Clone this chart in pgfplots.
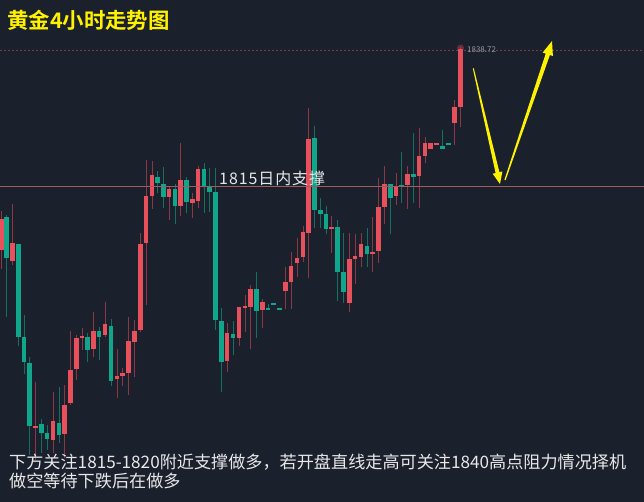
\documentclass[border=0pt]{standalone}
\usepackage{pgfplots}
\pgfplotsset{compat=1.18}
\usepackage{pgfplotstable}
\usepackage{fontspec}
\newfontfamily\cjk{Noto Sans CJK SC}
\newfontfamily\cjkwide[LetterSpace=6]{Noto Sans CJK SC}
\newfontfamily\cjkb{Noto Sans CJK SC Bold}

\definecolor{bg}{RGB}{27,32,45}
\definecolor{upbody}{RGB}{232,80,92}
\definecolor{upwick}{RGB}{140,56,68}
\definecolor{dnbody}{RGB}{16,166,140}
\definecolor{dnwick}{RGB}{20,112,96}
\definecolor{supline}{RGB}{158,92,98}
\definecolor{pxline}{RGB}{125,58,70}
\definecolor{txt}{RGB}{232,232,232}
\definecolor{pxtext}{RGB}{150,155,165}

% candles: x = pixel column, body top/bottom, high, low (pixel rows)
% red = rising candle, green = falling candle
\pgfplotstableread{
x t b h l
1.5 219 250 211 269
12.5 243 261 204 265
35.7 426 428 382 460
53 421 440 392 453
64.7 405 434 385 458
70.3 370 403 331 405
76.3 338 369 335 380
82 336 338 328 350
93.5 331 349 312 357
105 324 335 302 337
117 376 379 349 398
122.5 373 376 368 386
128.7 341 373 317 395
134.3 331 342 320 377
140.3 244 330 233 332
146 196 243 160 305
152 175 196 161 209
169 189 197 187 220
180.3 180 206 143 216
192.3 199 203 193 218
198 169 201 166 208
227 333 361 323 372
239 307 338 307 346
245 306 308 295 332
250.3 289 307 285 349
262.3 302 310 299 328
285.3 282 291 267 309
291 266 282 252 309
297 258 263 238 277
303 232 257 226 262
308.7 139 233 108 278
331.5 227 229 216 253
349.3 259 303 233 312
355 256 259 234 284
361 244 257 233 267
372.5 252 254 217 272
378.5 207 251 178 263
384.5 184 207 166 224
396 186 196 173 205
407.5 174 185 166 209
419 156 176 128 208
425 143 156 137 163
430.5 143 149 143 149
436.5 143 145 143 145
454.5 107 123 100 145
460.5 49 107 47 127
}\up

\pgfplotstableread{
x t b h l
6.5 217 258 215 317
18.3 244 337 244 346
24 337 362 315 374
29.7 363 426 357 455
41.3 424 433 419 453
47 433 439 425 450
59 423 435 387 443
87.7 337 350 333 362
99 331 337 327 360
111 326 381 319 386
157.7 177 183 171 193
163.3 184 197 167 208
175 189 206 184 224
186.3 180 202 177 213
204 169 187 163 213
209.7 187 192 168 212
215.3 192 320 168 330
221.3 321 362 308 392
233 334 338 321 355
256.3 289 311 272 338
268 308 310 304 310
273.5 303 305 303 305
279.5 308 310 308 310
314.5 138 210 126 228
320.3 210 214 198 228
326 214 229 206 234
337.3 227 272 220 301
343.5 272 292 233 303
367 246 254 228 267
390.5 184 198 184 234
401.5 185 187 152 203
413.5 174 177 133 203
442.5 146 149 130 149
448.5 143 145 143 145
}\dn

\begin{document}
\begin{tikzpicture}
\fill[bg] (0,0) rectangle (644bp,502bp);
\begin{axis}[
    at={(0,0)}, anchor=south west,
    width=644bp, height=502bp, scale only axis,
    xmin=0, xmax=644, ymin=0, ymax=502, y dir=reverse,
    axis lines=none, xtick=\empty, ytick=\empty,
]
% price line of the last close
\draw[pxline, line width=0.8bp, dash pattern=on 1.5bp off 2.5bp] (axis cs:0,50) -- (axis cs:644,50);
% wicks
\addplot[upwick, line width=1bp, quiver={u=0, v=\thisrow{l}-\thisrow{h}}] table[x=x, y=h] {\up};
\addplot[dnwick, line width=1bp, quiver={u=0, v=\thisrow{l}-\thisrow{h}}] table[x=x, y=h] {\dn};
% bodies
\addplot[upbody, line width=4.7bp, quiver={u=0, v=\thisrow{b}-\thisrow{t}}] table[x=x, y=t] {\up};
\addplot[dnbody, line width=4.7bp, quiver={u=0, v=\thisrow{b}-\thisrow{t}}] table[x=x, y=t] {\dn};
% support line
\draw[supline, line width=1.6bp] (axis cs:0,186.5) -- (axis cs:644,186.5);
% glow on the last high
\fill[upbody, opacity=0.35] (axis cs:460.5,48) circle[radius=3.5bp];
\node[anchor=west, inner sep=0pt, text=pxtext, font=\cjk\fontsize{8}{9}\selectfont] at (axis cs:467,50) {1838.72};
% yellow arrows
\fill[yellow] (axis cs:473.8,68.2) -- (axis cs:499.4,172.1) -- (axis cs:502.4,171.5) -- (axis cs:500,184)
  -- (axis cs:492.6,173.7) -- (axis cs:495.6,173.1) -- (axis cs:472.8,68.4) -- cycle;
\fill[yellow] (axis cs:505.6,180.2) -- (axis cs:549.9,55.0) -- (axis cs:552.9,56.0) -- (axis cs:552,41)
  -- (axis cs:542.7,52.6) -- (axis cs:545.7,53.6) -- (axis cs:504.4,179.8) -- cycle;
% texts
\node[anchor=west, inner sep=0pt, text=yellow, font=\cjkb\fontsize{21.5}{24}\selectfont] at (axis cs:7,20) {黄金4小时走势图};
\node[anchor=west, inner sep=0pt, text=txt, font=\cjkwide\fontsize{16}{18}\selectfont] at (axis cs:219,178) {1815日内支撑};
\node[anchor=west, inner sep=0pt, text=txt, font=\cjk\fontsize{17.2}{19}\selectfont] at (axis cs:9,462) {下方关注1815-1820附近支撑做多，若开盘直线走高可关注1840高点阻力情况择机};
\node[anchor=west, inner sep=0pt, text=txt, font=\cjk\fontsize{17.2}{19}\selectfont] at (axis cs:9,481) {做空等待下跌后在做多};
\end{axis}
\end{tikzpicture}
\end{document}
